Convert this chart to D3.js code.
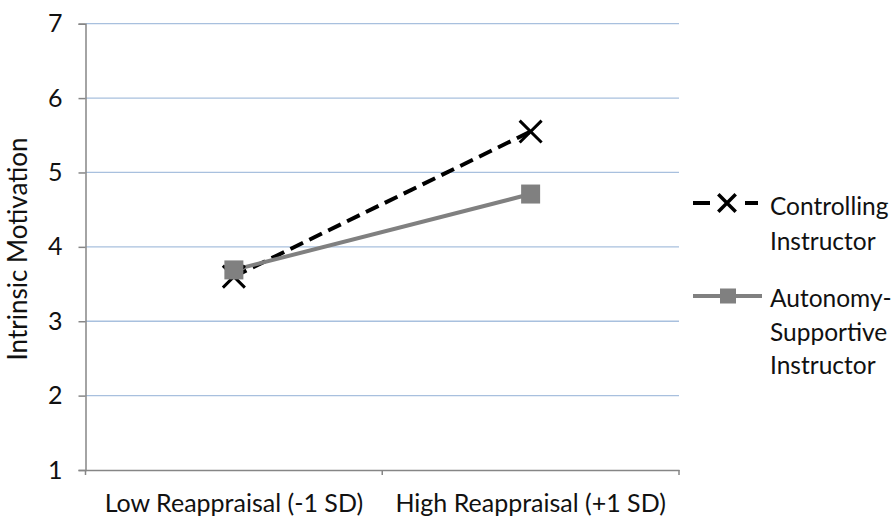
<!DOCTYPE html>
<html>
<head>
<meta charset="utf-8">
<script src="https://cdn.jsdelivr.net/npm/d3@7"></script>
<style>
  body { margin: 0; background: #fff; }
  text { font-family: Lato, "Open Sans", sans-serif; fill: #111; }
</style>
</head>
<body>
<div id="chart"></div>
<script>
// data
var categories = ["Low Reappraisal (-1 SD)", "High Reappraisal (+1 SD)"];
var controlling = [3.60, 5.55];
var autonomy = [3.69, 4.71];
var yTicks = [1, 2, 3, 4, 5, 6, 7];
var seriesNames = [["Controlling", "Instructor"], ["Autonomy-", "Supportive", "Instructor"]];

var width = 894, height = 519;
var margin = {left: 85.5, right: 215, top: 23.7, bottom: 49};

var svg = d3.select("#chart").append("svg")
    .attr("width", width)
    .attr("height", height);

var x = d3.scaleBand()
    .domain(categories)
    .range([margin.left, width - margin.right]);

var y = d3.scaleLinear()
    .domain([1, 7])
    .range([height - margin.bottom, margin.top]);

// gridlines
svg.append("g")
   .selectAll("line")
   .data(yTicks.slice(1))
   .enter().append("line")
   .attr("x1", margin.left)
   .attr("x2", width - margin.right)
   .attr("y1", function(d) { return y(d); })
   .attr("y2", function(d) { return y(d); })
   .style("stroke", "#a8c0de")
   .style("stroke-width", 1.3);

// y axis
var yAxis = svg.append("g")
    .attr("transform", "translate(" + margin.left + ",0)")
    .call(d3.axisLeft(y).tickValues(yTicks).tickFormat(d3.format("d")).tickSize(7).tickPadding(16));
yAxis.select(".domain").style("stroke", "#868686").style("stroke-width", 1.5);
yAxis.selectAll(".tick line").style("stroke", "#868686").style("stroke-width", 1.5);
yAxis.selectAll(".tick text").style("font-size", "25px").style("font-family", "Lato");

// x axis
var xAxis = svg.append("g")
    .attr("transform", "translate(0," + (height - margin.bottom) + ")")
    .call(d3.axisBottom(x).tickSize(0).tickPadding(24));
xAxis.select(".domain").style("stroke", "#868686").style("stroke-width", 1.5);
xAxis.selectAll(".tick text").style("font-size", "25px").style("font-family", "Lato");
// category boundary ticks
xAxis.selectAll(".bound")
   .data([x.range()[0], x.range()[0] + x.step(), x.range()[1]])
   .enter().append("line")
   .attr("x1", function(d) { return d; })
   .attr("x2", function(d) { return d; })
   .attr("y1", 0).attr("y2", 5)
   .style("stroke", "#868686")
   .style("stroke-width", 1.5);

svg.append("text")
   .attr("transform", "translate(27,249) rotate(-90)")
   .attr("text-anchor", "middle")
   .style("font-size", "26px")
   .text("Intrinsic Motivation");

var line = d3.line()
    .x(function(d, i) { return x(categories[i]) + x.bandwidth() / 2; })
    .y(function(d) { return y(d); });

// controlling series
svg.append("path")
   .datum(controlling)
   .attr("d", line)
   .style("fill", "none")
   .style("stroke", "#000")
   .style("stroke-width", 4)
   .style("stroke-dasharray", "14,7");

// autonomy series
svg.append("path")
   .datum(autonomy)
   .attr("d", line)
   .style("fill", "none")
   .style("stroke", "#808080")
   .style("stroke-width", 4);

svg.selectAll(".xmark")
   .data(controlling)
   .enter().append("path")
   .attr("d", d3.symbol().type(d3.symbolX).size(317))
   .attr("transform", function(d, i) {
       return "translate(" + (x(categories[i]) + x.bandwidth() / 2) + "," + y(d) + ")";
   })
   .style("fill", "none")
   .style("stroke", "#000")
   .style("stroke-width", 3);

svg.selectAll(".sq")
   .data(autonomy)
   .enter().append("rect")
   .attr("x", function(d, i) { return x(categories[i]) + x.bandwidth() / 2 - 9.5; })
   .attr("y", function(d) { return y(d) - 9.5; })
   .attr("width", 19).attr("height", 19)
   .style("fill", "#808080");

// legend
var lg = svg.append("g");
var l1 = 203, l2 = 296;
lg.append("line").attr("x1", 693).attr("x2", 758).attr("y1", l1).attr("y2", l1)
  .style("stroke", "#000").style("stroke-width", 4).style("stroke-dasharray", "17,35");
lg.append("path").attr("d", d3.symbol().type(d3.symbolX).size(200))
  .attr("transform", "translate(727," + l1 + ")")
  .style("fill", "none").style("stroke", "#000").style("stroke-width", 3.5);
lg.append("line").attr("x1", 693).attr("x2", 762).attr("y1", l2).attr("y2", l2)
  .style("stroke", "#808080").style("stroke-width", 4);
lg.append("rect").attr("x", 720).attr("y", l2 - 7.5).attr("width", 16).attr("height", 15)
  .style("fill", "#808080");

[[l1, 12, 35], [l2, 11, 33.5]].forEach(function(p, k) {
    var t = lg.append("text").attr("x", 770).attr("y", p[0] + p[1]).style("font-size", "24.5px");
    seriesNames[k].forEach(function(s, j) {
        t.append("tspan").attr("x", 770).attr("dy", j === 0 ? 0 : p[2]).text(s);
    });
});
</script>
</body>
</html>
